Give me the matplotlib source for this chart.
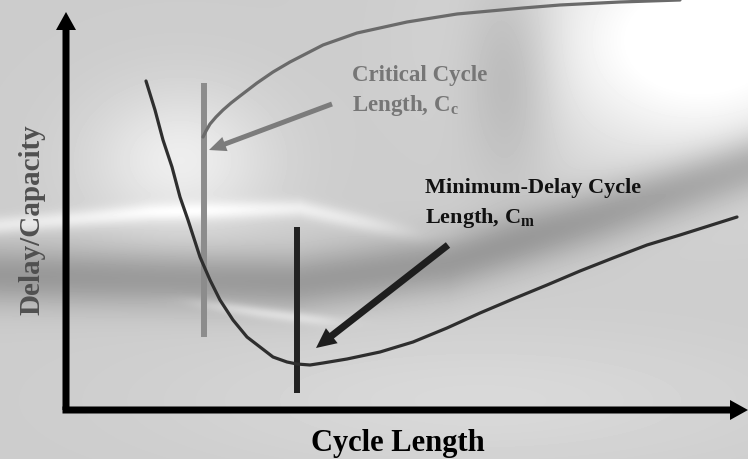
import numpy as np
import matplotlib
matplotlib.use("Agg")
import matplotlib.pyplot as plt

# ---- data (x = cycle length, y = delay/capacity, arbitrary units) ----
delay_x = [80, 89, 97, 106, 114, 122, 134, 144, 154, 167, 181, 194, 207, 221, 231, 244,
           257, 281, 314, 347, 381, 414, 447, 481, 514, 547, 581, 614, 671]
delay_y = [329, 300, 270, 243, 213, 190, 153, 130, 110, 90, 73, 63, 53, 48, 46, 45,
           47, 51, 58, 68, 82, 97, 111, 125, 139, 152, 165, 175, 193]
capacity_x = [137, 140, 144, 150, 157, 165, 174, 191, 207, 224, 257, 291, 341, 391, 457, 494, 554, 614]
capacity_y = [273, 279, 286, 293, 300, 307, 314, 327, 338, 348, 365, 377, 388, 396, 402, 405, 408, 410]
cc_x, cc_range = 138, (73, 327)     # critical cycle length marker
cm_x, cm_range = 231, (17, 183)     # minimum-delay cycle length marker
cc_arrow = ((266, 306), (143, 260))
cm_arrow = ((382, 165), (250, 62))

label_x = "Cycle Length"
label_y = "Delay/Capacity"
cc_text = ["Critical Cycle", "Length, C$_{\\mathrm{c}}$"]
cm_text = ["Minimum-Delay Cycle", "Length, C$_{\\mathrm{m}}$"]

# ---- figure ----
plt.rcParams["mathtext.fontset"] = "custom"
plt.rcParams["mathtext.rm"] = "Liberation Serif:bold"
plt.rcParams["mathtext.bf"] = "Liberation Serif:bold"
plt.rcParams["mathtext.it"] = "Liberation Serif:bold"

fig = plt.figure(figsize=(7.48, 4.59), dpi=100)
ax = fig.add_axes([0, 0, 1, 1])
X0, X1, Y0, Y1 = -66, 682, -49, 410
ax.set_xlim(X0, X1)
ax.set_ylim(Y0, Y1)
ax.axis("off")

# decorative grey background
H, W = 459, 748
yy, xx = np.mgrid[0:H, 0:W].astype(float)
bg = np.full((H, W), 0.80)

def blob(cx, cy, sx, sy, amp):
    return amp * np.exp(-(((xx - cx) / sx) ** 2 + ((yy - cy) / sy) ** 2))

def fade(x, x_end, soft):
    return 1.0 / (1.0 + np.exp((x - x_end) / soft))

bg += blob(700, 40, 170, 120, 0.24)
bg += blob(510, 70, 45, 100, -0.12)
bg += blob(180, 160, 90, 70, 0.13)
bg += blob(480, 400, 300, 70, 0.05)
yc = np.interp(xx, [0, 150, 300, 450, 600, 748], [275, 278, 282, 262, 215, 165])
bg += -0.2 * np.exp(-((yy - yc) / 30) ** 2)
yc2 = np.interp(xx, [0, 150, 300, 420], [225, 212, 208, 235])
bg += 0.12 * np.exp(-((yy - yc2) / 9) ** 2) * fade(xx, 400, 25)
yc3 = np.interp(xx, [180, 260, 340], [300, 312, 322])
bg += 0.12 * np.exp(-((yy - yc3) / 6) ** 2) * fade(xx, 330, 15) * (1 - fade(xx, 200, 15))
bg = np.clip(bg, 0, 1)
ax.imshow(bg, cmap="gray", vmin=0, vmax=1, extent=(X0, X1, Y0, Y1),
          aspect="auto", zorder=0, interpolation="bilinear")

# curves
ax.plot(capacity_x, capacity_y, color="#6a6a6a", lw=2.3, zorder=3,
        solid_capstyle="round", solid_joinstyle="round")
ax.plot(delay_x, delay_y, color="#2e2e2e", lw=2.3, zorder=3,
        solid_capstyle="round", solid_joinstyle="round")

# markers
ax.plot([cc_x, cc_x], cc_range, color="#8c8c8c", lw=4.3, zorder=2, solid_capstyle="butt")
ax.plot([cm_x, cm_x], cm_range, color="#222222", lw=4.3, zorder=2, solid_capstyle="butt")

# arrows
(tx, ty), (hx, hy) = cc_arrow
ax.arrow(tx, ty, hx - tx, hy - ty, width=5, head_width=15, head_length=17,
         length_includes_head=True, color="#7c7c7c", zorder=4, lw=0)
(tx, ty), (hx, hy) = cm_arrow
ax.arrow(tx, ty, hx - tx, hy - ty, width=7, head_width=19, head_length=20,
         length_includes_head=True, color="#1e1e1e", zorder=4, lw=0)

# axes with arrowheads
ax.arrow(0, 0, 0, 398, width=7, head_width=20, head_length=18,
         length_includes_head=True, color="black", zorder=5, lw=0)
ax.arrow(-3.5, 0, 685.5, 0, width=7, head_width=20, head_length=18,
         length_includes_head=True, color="black", zorder=5, lw=0)

font = dict(family="Liberation Serif", weight="bold")
ax.text(332, -33, label_x, ha="center", va="center", fontsize=22, color="black", **font)
ax.text(-34, 190, label_y, ha="center", va="center", rotation=90, fontsize=21,
        color="#505050", **font)
ax.text(286, 335, cc_text[0], ha="left", va="center", fontsize=16.5, color="#767676", **font)
ax.text(286, 305, cc_text[1], ha="left", va="center", fontsize=16.5, color="#767676", **font)
ax.text(359, 222, cm_text[0], ha="left", va="center", fontsize=16, color="#111111", **font)
ax.text(359, 192, cm_text[1], ha="left", va="center", fontsize=16, color="#111111", **font)

fig.savefig("out.png", dpi=100)
